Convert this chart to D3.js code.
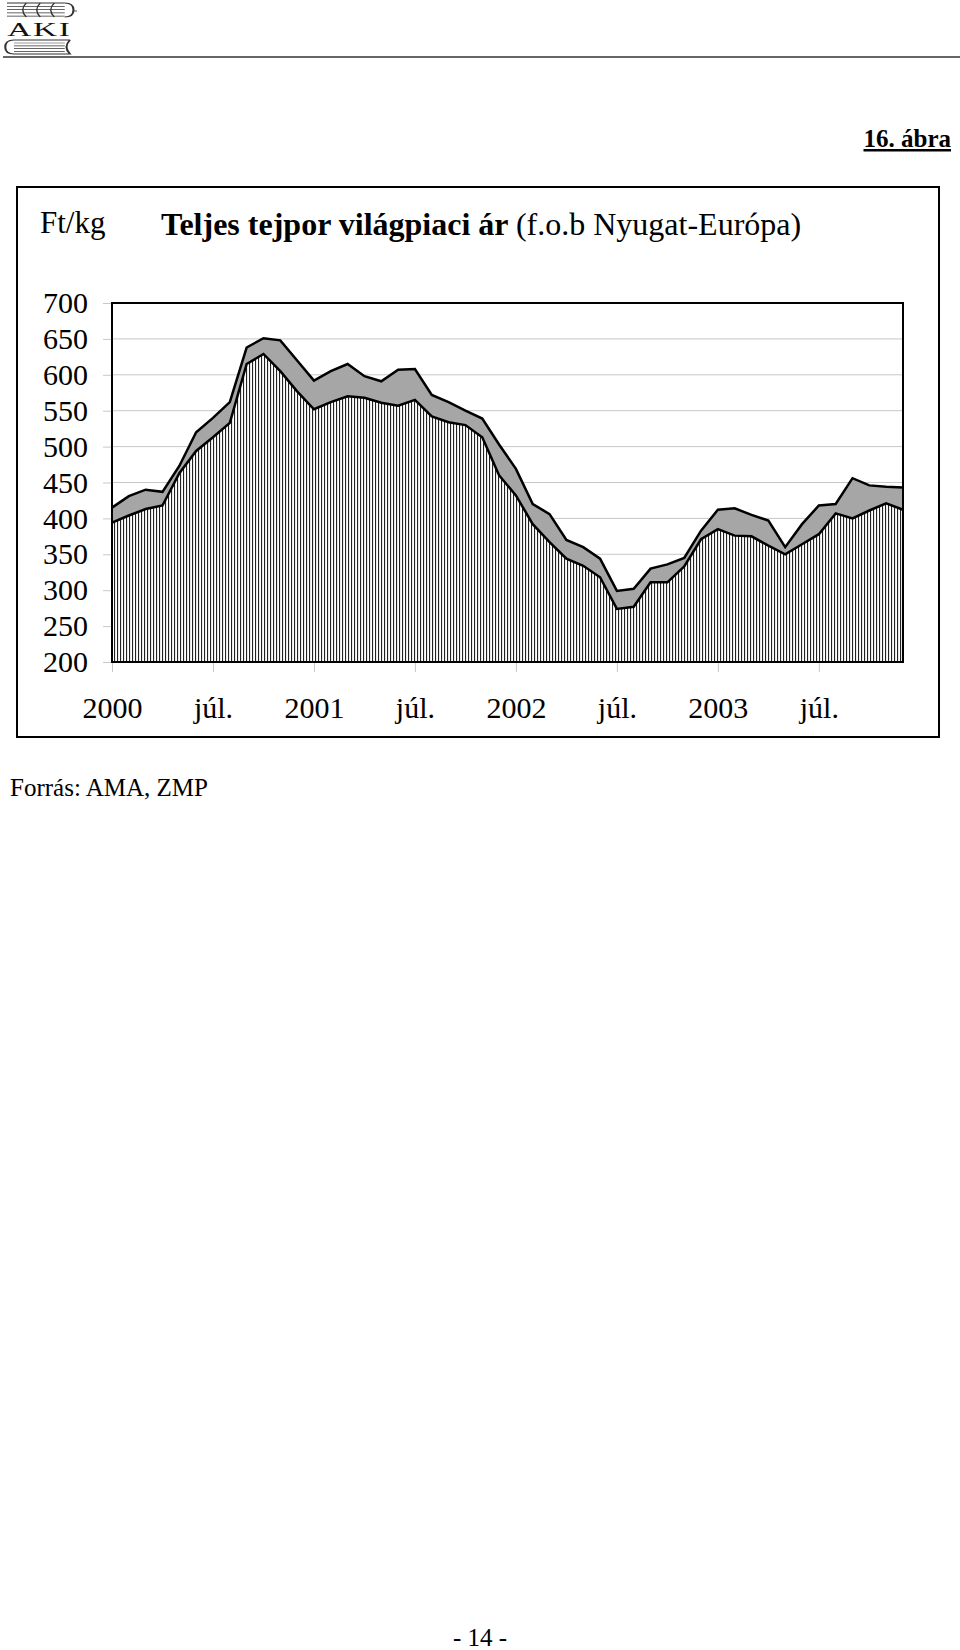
<!DOCTYPE html>
<html>
<head>
<meta charset="utf-8">
<script src="https://cdn.jsdelivr.net/npm/d3@7"></script>
<style>
  body { margin: 0; background: #fff; }
  svg { display: block; font-family: "Liberation Serif", "Times New Roman", serif; }
</style>
</head>
<body>
<div id="viz"></div>
<script>
// havi adatok 2000 jan. - 2003 dec., Ft/kg
const months = d3.range(48)
const upper = [415, 431, 440, 437, 473, 520, 540, 562, 638, 651, 648, 620,
    592, 605, 615, 598, 591, 607, 608, 572, 562, 550, 539, 503,
    469, 420, 406, 370, 360, 344, 299, 302, 330, 336, 345, 383,
    412, 414, 405, 397, 360, 392, 418, 420, 456, 446, 444, 443]
const lower = [394, 404, 413, 418, 463, 494, 513, 533, 615, 629, 605, 577,
    552, 562, 570, 568, 561, 557, 565, 542, 534, 530, 513, 460,
    432, 392, 367, 344, 334, 318, 274, 277, 311, 311, 333, 371,
    385, 376, 375, 362, 350, 364, 378, 407, 400, 411, 421, 412]
const yTicks = [200, 250, 300, 350, 400, 450, 500, 550, 600, 650, 700]
const xTicks = [0, 6, 12, 18, 24, 30, 36, 42]
const xLabels = ["2000", "júl.", "2001", "júl.", "2002", "júl.", "2003", "júl."]

const W = 960, H = 1650
const plot = { left: 112, right: 903, top: 303, bottom: 662 }

const svg = d3.select("#viz").append("svg").attr("width", W).attr("height", H)
svg.append("rect").attr("width", W).attr("height", H).attr("fill", "#fff")

// hatch minta az alsó területhez
const defs = svg.append("defs")
const pat = defs.append("pattern").attr("id", "hatch")
    .attr("patternUnits", "userSpaceOnUse").attr("width", 3).attr("height", 10)
pat.append("rect").attr("width", 3).attr("height", 10).attr("fill", "#fff")
pat.append("rect").attr("x", 0).attr("width", 1.1).attr("height", 10).attr("fill", "#222")

// fejléc: logó (vízszintesen nyújtva) + vonal
const logo = svg.append("g").attr("transform", "scale(1.75,1)")
    .attr("fill", "none").attr("stroke", "#333").attr("stroke-width", 0.8)
d3.range(5).forEach(k => {
    logo.append("line").attr("x1", 4).attr("x2", 37).attr("y1", 3 + k * 3.3).attr("y2", 3 + k * 3.3)
})
d3.range(3).forEach(k => {
    logo.append("path").attr("d", `M${15 + k * 8},3 q-4,7 0,14`)
})
logo.append("path").attr("d", "M37,3 q5,0 5,7 q0,7 -5,7").attr("stroke-width", 1.2)
logo.append("line").attr("x1", 42).attr("x2", 44).attr("y1", 11).attr("y2", 11)
logo.append("text").attr("x", 22.5).attr("y", 36).attr("text-anchor", "middle")
    .attr("stroke", "none").attr("font-size", 19).attr("letter-spacing", 1)
    .attr("fill", "#111").text("AKI")
logo.append("path").attr("d", "M40,40 L8,40 q-5,0 -5,7 q0,7 5,7 L40,54 q-4,-7 0,-14").attr("stroke-width", 1.2)
d3.range(4).forEach(k => {
    logo.append("line").attr("x1", 8).attr("x2", 37).attr("y1", 43 + k * 2.8).attr("y2", 43 + k * 2.8).attr("stroke-width", 0.7)
})
svg.append("line").attr("x1", 3).attr("x2", W).attr("y1", 57).attr("y2", 57)
    .attr("stroke", "#333").attr("stroke-width", 1.5)

svg.append("text").attr("x", 951).attr("y", 147).attr("text-anchor", "end")
    .attr("font-size", 25).attr("font-weight", "bold").attr("text-decoration", "underline")
    .text("16. ábra")

// keret
svg.append("rect").attr("x", 17).attr("y", 187).attr("width", 922).attr("height", 550)
    .attr("fill", "none").attr("stroke", "#000").attr("stroke-width", 2)

svg.append("text").attr("x", 40).attr("y", 233).attr("font-size", 31).text("Ft/kg")
const title = svg.append("text").attr("x", 161).attr("y", 235).attr("font-size", 32)
title.append("tspan").attr("font-weight", "bold").text("Teljes tejpor világpiaci ár ")
title.append("tspan").text("(f.o.b Nyugat-Európa)")

const x = d3.scaleLinear().domain([0, 47]).range([plot.left, plot.right])
const y = d3.scaleLinear().domain([200, 700]).range([plot.bottom, plot.top])

// rácsvonalak
svg.append("g").selectAll("line")
    .data(yTicks.slice(1, -1))
    .join("line")
    .attr("x1", plot.left).attr("x2", plot.right)
    .attr("y1", d => y(d)).attr("y2", d => y(d))
    .attr("stroke", "#c8c8c8").attr("stroke-width", 1)

const upperArea = d3.area().x(d => x(d)).y0(y(200)).y1(d => y(upper[d]))
const lowerArea = d3.area().x(d => x(d)).y0(y(200)).y1(d => y(lower[d]))

svg.append("path").datum(months).attr("d", upperArea).attr("fill", "#a6a6a6")
svg.append("path").datum(months).attr("d", lowerArea).attr("fill", "url(#hatch)")

svg.append("path").datum(months)
    .attr("d", d3.line().x(d => x(d)).y(d => y(upper[d])))
    .attr("fill", "none").attr("stroke", "#000").attr("stroke-width", 2.5)
svg.append("path").datum(months)
    .attr("d", d3.line().x(d => x(d)).y(d => y(lower[d])))
    .attr("fill", "none").attr("stroke", "#000").attr("stroke-width", 2.5)

// tengelyek
const yAxis = svg.append("g").attr("transform", `translate(${plot.left},0)`)
    .call(d3.axisLeft(y).tickValues(yTicks).tickSize(9).tickPadding(15))
yAxis.select(".domain").remove()
yAxis.selectAll("line").attr("stroke", "#c8c8c8")
yAxis.selectAll("text").attr("font-size", 30).attr("font-family", "Liberation Serif, serif").attr("fill", "#000")

const xAxis = svg.append("g").attr("transform", `translate(0,${plot.bottom})`)
    .call(d3.axisBottom(x).tickValues(xTicks).tickSize(10).tickPadding(25)
        .tickFormat((d, i) => xLabels[i]))
xAxis.select(".domain").remove()
xAxis.selectAll("line").attr("stroke", "#c8c8c8")
xAxis.selectAll("text").attr("font-size", 30).attr("font-family", "Liberation Serif, serif").attr("fill", "#000")

// rajzterület kerete
svg.append("rect").attr("x", plot.left).attr("y", plot.top)
    .attr("width", plot.right - plot.left).attr("height", plot.bottom - plot.top)
    .attr("fill", "none").attr("stroke", "#000").attr("stroke-width", 2)

svg.append("text").attr("x", 10).attr("y", 796).attr("font-size", 25).text("Forrás: AMA, ZMP")
svg.append("text").attr("x", 480).attr("y", 1646).attr("text-anchor", "middle")
    .attr("font-size", 25).text("- 14 -")
</script>
</body>
</html>
